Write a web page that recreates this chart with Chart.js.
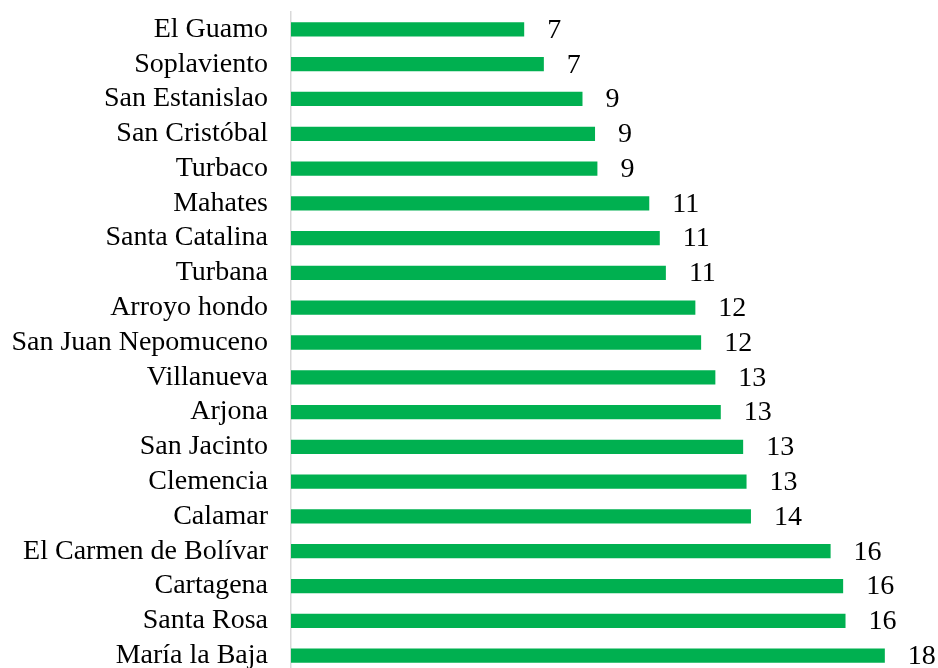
<!DOCTYPE html>
<html>
<head>
<meta charset="utf-8">
<script src="https://cdn.jsdelivr.net/npm/chart.js@4.4.1/dist/chart.umd.min.js"></script>
<style>
  html, body { margin: 0; padding: 0; background: #fff; overflow: hidden; }
  #wrap { width: 938px; height: 668px; overflow: hidden; }
</style>
</head>
<body>
<div id="wrap"><canvas id="c" width="938" height="673"></canvas></div>
<script>
const categories = [
  "El Guamo", "Soplaviento", "San Estanislao", "San Cristóbal", "Turbaco",
  "Mahates", "Santa Catalina", "Turbana", "Arroyo hondo", "San Juan Nepomuceno",
  "Villanueva", "Arjona", "San Jacinto", "Clemencia", "Calamar",
  "El Carmen de Bolívar", "Cartagena", "Santa Rosa", "María la Baja"
];
const values = [
  6.88, 7.46, 8.60, 8.97, 9.04,
  10.57, 10.88, 11.06, 11.93, 12.10,
  12.52, 12.68, 13.34, 13.44, 13.57,
  15.92, 16.29, 16.36, 17.52
];
const xMin = 0;
const xMax = 19;

const FONT = "'Liberation Serif', 'Times New Roman', serif";

const valueLabels = {
  id: 'valueLabels',
  afterDatasetsDraw(chart) {
    const ctx = chart.ctx;
    const meta = chart.getDatasetMeta(0);
    ctx.save();
    ctx.font = "28px " + FONT;
    ctx.fillStyle = "#000";
    ctx.textAlign = "left";
    ctx.textBaseline = "middle";
    meta.data.forEach((bar, i) => {
      ctx.fillText(String(Math.round(values[i])), bar.x + 23, bar.y + 1);
    });
    ctx.restore();
  }
};

new Chart(document.getElementById('c'), {
  type: 'bar',
  data: {
    labels: categories,
    datasets: [{
      data: values,
      backgroundColor: '#00B050',
      borderWidth: 0,
      barPercentage: 0.41,
      categoryPercentage: 1.0
    }]
  },
  options: {
    indexAxis: 'y',
    responsive: false,
    animation: false,
    devicePixelRatio: 1,
    layout: { padding: { top: 12, bottom: 0, left: 0, right: 3 } },
    plugins: {
      legend: { display: false },
      tooltip: { enabled: false }
    },
    scales: {
      x: {
        display: false,
        min: xMin,
        max: xMax
      },
      y: {
        offset: true,
        afterFit(scale) {
          scale.width = 291;
          scale.paddingTop = 0;
          scale.paddingBottom = 0;
        },
        grid: { display: false, drawTicks: false },
        border: { display: true, color: '#D9D9D9', width: 1.5 },
        ticks: {
          color: '#000',
          padding: 23,
          autoSkip: false,
          font: { family: FONT, size: 28 }
        }
      }
    }
  },
  plugins: [valueLabels]
});
</script>
</body>
</html>
